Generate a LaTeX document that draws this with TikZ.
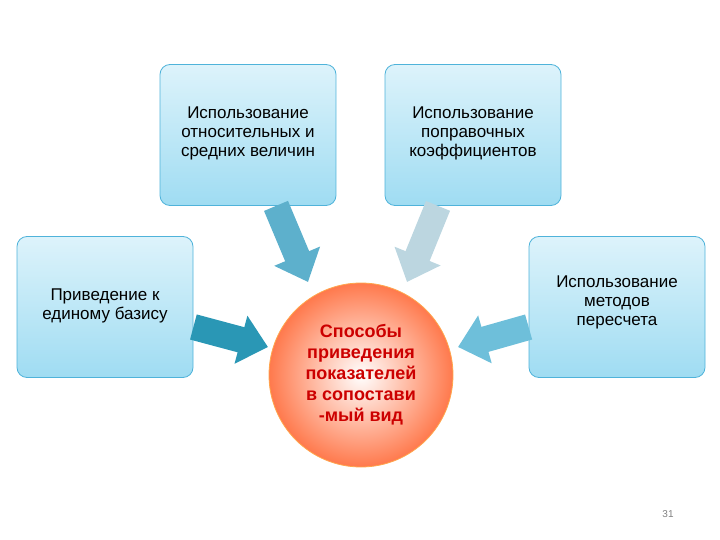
\documentclass[tikz,border=0pt]{standalone}
\usepackage{fontspec}
\setmainfont{Liberation Sans}
\usetikzlibrary{arrows.meta}
\definecolor{boxtop}{HTML}{DDF3FB}
\definecolor{boxbot}{HTML}{9FDCF2}
\definecolor{boxline}{HTML}{4FB3DA}
\definecolor{arA}{HTML}{5DB0CC}
\definecolor{arB}{HTML}{BCD6E0}
\definecolor{arC}{HTML}{2A97B5}
\definecolor{arD}{HTML}{6EBFDA}
\begin{document}
\begin{tikzpicture}[x=1pt,y=-1pt,
  box/.style={draw=boxline, line width=0.8pt, rounded corners=10pt, minimum width=176pt, minimum height=141pt,
    top color=boxtop, bottom color=boxbot, inner sep=2pt},
  btext/.style={align=center, font=\fontsize{17}{19}\selectfont},
  barrow/.style={line width=26pt, -{Triangle[width=48pt,length=28pt]}}]
\useasboundingbox (0,0) rectangle (720,540);
\node[box] (tl) at (248,135) {};
\node[btext] (tlt) at (248,133) {Использование\\относительных и\\средних величин};
\node[box] (tr) at (473,135) {};
\node[btext] (trt) at (473,133) {Использование\\поправочных\\коэффициентов};
\node[box] (l) at (105,307) {};
\node[btext] (lt) at (105,306) {Приведение к\\единому базису};
\node[box] (r) at (617,307) {};
\node[btext] (rt) at (617,302) {Использование\\методов\\пересчета};
\node[circle, minimum size=184pt, draw=orange!70, line width=0.8pt, inner color=white, outer color=red!50!orange!70, align=center,
  font=\bfseries\fontsize{18}{21}\selectfont, text=red!80!black] (c) at (361,375) {Способы\\приведения\\показателей\\в сопостави\\-мый вид};
\draw[barrow, draw=arA] (tl.south) ++(28,0) coordinate (a1) -- (308,282) coordinate (b1);
\draw[barrow, draw=arB] (tr.south) ++(-35,0) coordinate (a2) -- (407,282) coordinate (b2);
\draw[barrow, draw=arC] (l.east) ++(0,20) coordinate (a3) -- (268,347) coordinate (b3);
\draw[barrow, draw=arD] (r.west) ++(0,20) coordinate (a4) -- (458,347) coordinate (b4);
\node[font=\fontsize{10}{12}\selectfont, text=gray] (n) at (668,514) {31};
\end{tikzpicture}
\end{document}
